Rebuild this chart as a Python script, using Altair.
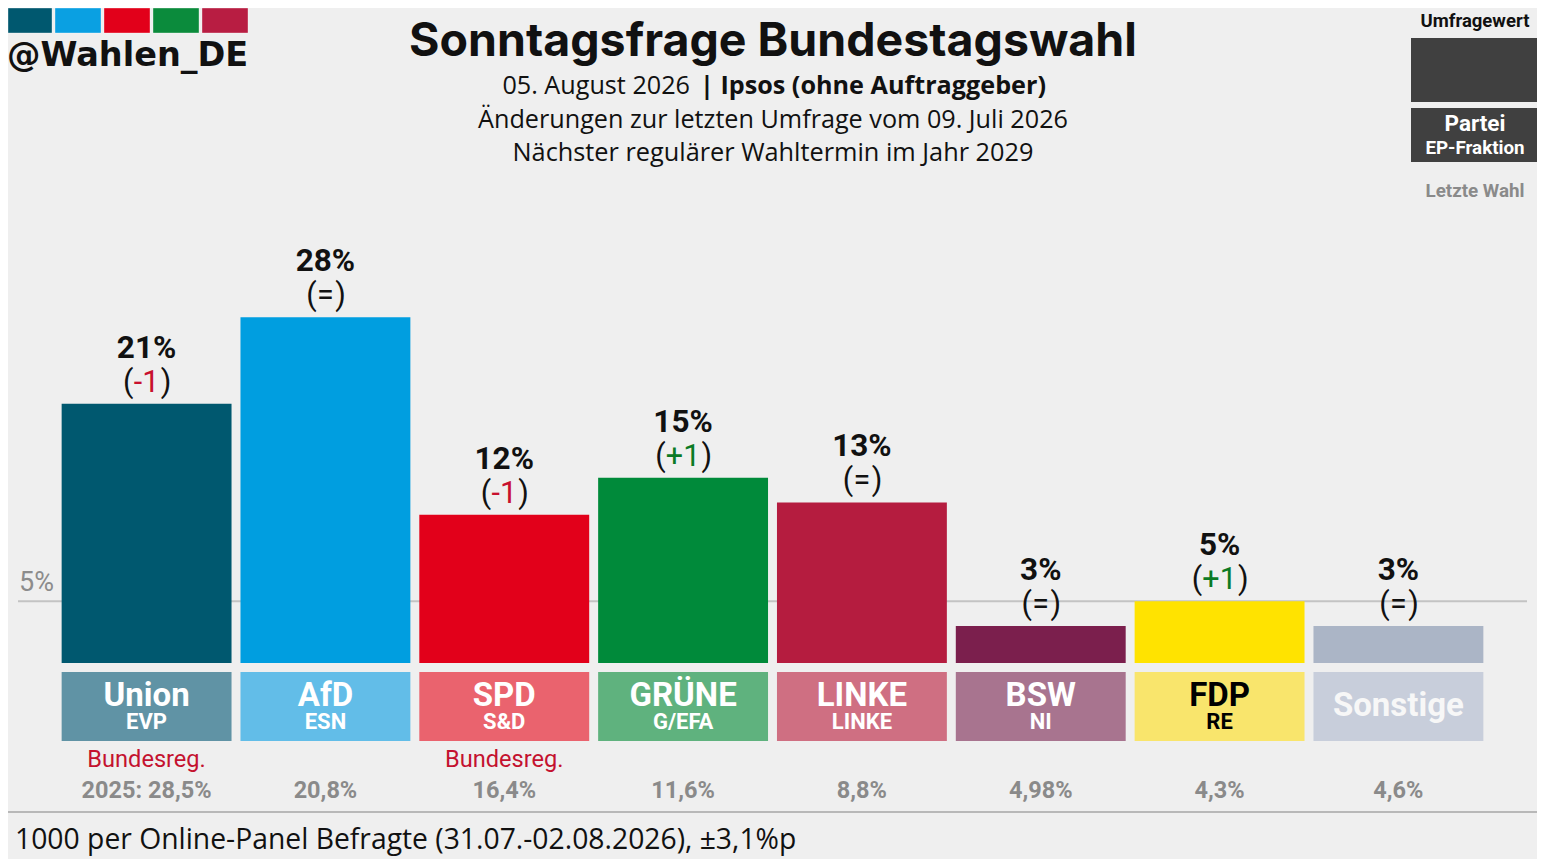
import altair as alt
import pandas as pd

# ---------------- data ----------------
parties = ["Union", "AfD", "SPD", "GRÜNE", "LINKE", "BSW", "FDP", "Sonstige"]
fraktion = ["EVP", "ESN", "S&D", "G/EFA", "LINKE", "NI", "RE", ""]
values = [21, 28, 12, 15, 13, 3, 5, 3]
changes = ["-1", "=", "-1", "+1", "=", "=", "+1", "="]
last_vote = ["2025: 28,5%", "20,8%", "16,4%", "11,6%", "8,8%", "4,98%", "4,3%", "4,6%"]
government = ["Bundesreg.", "", "Bundesreg.", "", "", "", "", ""]
bar_colors = ["#00586f", "#009ee0", "#e2001a", "#008a3a", "#b51c3f", "#7b1f4d", "#ffe300", "#abb5c6"]
box_colors = ["#6093a5", "#62bde8", "#ea636e", "#5fb27e", "#cf6f82", "#a8748f", "#f9e56c", "#c8cedb"]
name_colors = ["#ffffff"] * 6 + ["#000000", "#f7f7f7"]
threshold = [5]
logo_colors = ["#00586f", "#0aa0e2", "#e2001a", "#0b8b3c", "#b81d42"]

# ---------------- layout ----------------
W, H = 1529, 851
OFF = 8
def px(x):
    return x - OFF
def py(y):
    return y - OFF

BASE_Y = py(663)
PX_PER_PCT = 12.35
y_domain = [-(H - BASE_Y) / PX_PER_PCT, BASE_Y / PX_PER_PCT]

BG = "#efefef"
FONT = "Roboto"
SUBFONT = "Open Sans"
TITLEFONT = "Inter"

df = pd.DataFrame({
    "party": parties,
    "fraktion": fraktion,
    "value": values,
    "change": changes,
    "last": last_vote,
    "gov": government,
    "bar_color": bar_colors,
    "box_color": box_colors,
    "name_color": name_colors,
})
df["label"] = df["value"].astype(str) + "%"

X = alt.X("party:N", sort=parties,
          scale=alt.Scale(paddingInner=0.05, paddingOuter=0.3), axis=None)
Ysc = alt.Scale(domain=y_domain, nice=False, zero=False)

base = alt.Chart(df)
one = alt.Chart(pd.DataFrame({"a": [0]}))

layers = []

# 5% threshold line
thr = pd.DataFrame({"v": threshold})
thr["lab"] = thr["v"].astype(str) + "%"
layers.append(alt.Chart(thr).mark_rule(color="#c3c3c3", strokeWidth=2).encode(
    y=alt.Y("v:Q", scale=Ysc, axis=None),
    x=alt.value(px(18)), x2=alt.value(px(1527))))
layers.append(alt.Chart(thr).mark_text(align="left", baseline="alphabetic", dy=-10,
                                        font=FONT, fontSize=27, color="#8c8c8c").encode(
    y=alt.Y("v:Q", scale=Ysc, axis=None), x=alt.value(px(19)), text="lab:N"))

# bars
layers.append(base.mark_bar().encode(
    x=X, y=alt.Y("value:Q", scale=Ysc, axis=None), y2=alt.datum(0),
    color=alt.Color("bar_color:N", scale=None)))

# value labels
layers.append(base.mark_text(baseline="alphabetic", dy=-46, font=FONT, fontSize=31.5,
                             fontWeight="bold", color="#111111").encode(
    x=X, y=alt.Y("value:Q", scale=Ysc, axis=None), text="label:N"))

# change labels: "(" + coloured change + ")"
change_style = {"=": ("#111111", 8.3), "-1": ("#c8102e", 12.6), "+1": ("#0b7a25", 16.9)}
for key, (col, hw) in change_style.items():
    sub = base.transform_filter(alt.datum.change == key)
    common = dict(baseline="alphabetic", dy=-12, font=FONT, fontSize=30.5)
    layers.append(sub.mark_text(align="right", dx=-hw - 0.5, color="#111111", text="(", **common).encode(
        x=X, y=alt.Y("value:Q", scale=Ysc, axis=None)))
    layers.append(sub.mark_text(align="center", color=col, **common).encode(
        x=X, y=alt.Y("value:Q", scale=Ysc, axis=None), text="change:N"))
    layers.append(sub.mark_text(align="left", dx=hw + 1.5, color="#111111", text=")", **common).encode(
        x=X, y=alt.Y("value:Q", scale=Ysc, axis=None)))

# party boxes
layers.append(base.mark_bar().encode(
    x=X, y=alt.value(py(672)), y2=alt.value(py(741)),
    color=alt.Color("box_color:N", scale=None)))
with_fr = base.transform_filter(alt.datum.fraktion != "")
no_fr = base.transform_filter(alt.datum.fraktion == "")
layers.append(with_fr.mark_text(baseline="alphabetic", font=FONT, fontSize=33, fontWeight="bold").encode(
    x=X, y=alt.value(py(706)), text="party:N", color=alt.Color("name_color:N", scale=None)))
layers.append(with_fr.mark_text(baseline="alphabetic", font=FONT, fontSize=22, fontWeight="bold").encode(
    x=X, y=alt.value(py(729)), text="fraktion:N", color=alt.Color("name_color:N", scale=None)))
layers.append(no_fr.mark_text(baseline="alphabetic", font=FONT, fontSize=33, fontWeight="bold").encode(
    x=X, y=alt.value(py(716)), text="party:N", color=alt.Color("name_color:N", scale=None)))

# government + last election
layers.append(base.transform_filter(alt.datum.gov != "").mark_text(
    baseline="alphabetic", font=FONT, fontSize=23.6, color="#c4122f").encode(
    x=X, y=alt.value(py(767)), text="gov:N"))
layers.append(base.mark_text(baseline="alphabetic", font=FONT, fontSize=23.5, fontWeight="bold",
                             color="#8a8a8a").encode(
    x=X, y=alt.value(py(798)), text="last:N"))

# separator + footer
layers.append(one.mark_rule(color="#b8b8b8", strokeWidth=2).encode(
    x=alt.value(0), x2=alt.value(W), y=alt.value(py(812))))
layers.append(one.mark_text(align="left", baseline="alphabetic", font=SUBFONT, fontSize=28.3,
                            color="#111111",
                            text="1000 per Online-Panel Befragte (31.07.-02.08.2026), ±3,1%p").encode(
    x=alt.value(px(15)), y=alt.value(py(849))))

# title block
layers.append(one.mark_text(align="center", baseline="alphabetic", font=TITLEFONT, fontSize=46.5,
                            fontWeight="bold", color="#111111",
                            text="Sonntagsfrage Bundestagswahl").encode(
    x=alt.value(px(773)), y=alt.value(py(56))))
layers.append(one.mark_text(align="right", baseline="alphabetic", font=SUBFONT, fontSize=25.2,
                            color="#111111", text="05. August 2026").encode(
    x=alt.value(px(690)), y=alt.value(py(94))))
layers.append(one.mark_text(align="left", baseline="alphabetic", font=SUBFONT, fontSize=25.2,
                            fontWeight="bold", color="#111111", text="| Ipsos (ohne Auftraggeber)").encode(
    x=alt.value(px(700)), y=alt.value(py(94))))
layers.append(one.mark_text(align="center", baseline="alphabetic", font=SUBFONT, fontSize=25.2,
                            color="#111111", text="Änderungen zur letzten Umfrage vom 09. Juli 2026").encode(
    x=alt.value(px(773)), y=alt.value(py(128))))
layers.append(one.mark_text(align="center", baseline="alphabetic", font=SUBFONT, fontSize=25.3,
                            color="#111111", text="Nächster regulärer Wahltermin im Jahr 2029").encode(
    x=alt.value(px(773)), y=alt.value(py(161))))

# logo
for i, c in enumerate(logo_colors):
    x0 = 6 + i * 49
    layers.append(one.mark_rect(color=c, stroke="#ffffff", strokeOpacity=0.35, strokeWidth=1).encode(
        x=alt.value(max(px(x0), 0)), x2=alt.value(px(x0 + 46)),
        y=alt.value(max(py(4), 0)), y2=alt.value(py(33))))
layers.append(one.mark_text(align="left", baseline="alphabetic", font="DejaVu Sans", fontSize=33.5,
                            fontWeight="bold", color="#111111", text="@Wahlen_DE").encode(
    x=alt.value(px(7)), y=alt.value(py(66))))

# legend (top right)
layers.append(one.mark_text(align="center", baseline="alphabetic", font=FONT, fontSize=18.5,
                            fontWeight="bold", color="#111111", text="Umfragewert").encode(
    x=alt.value(px(1475)), y=alt.value(py(27))))
layers.append(one.mark_rect(color="#404040").encode(
    x=alt.value(px(1411)), x2=alt.value(px(1538)), y=alt.value(py(38)), y2=alt.value(py(102))))
layers.append(one.mark_rect(color="#404040").encode(
    x=alt.value(px(1411)), x2=alt.value(px(1538)), y=alt.value(py(108)), y2=alt.value(py(162))))
layers.append(one.mark_text(align="center", baseline="alphabetic", font=FONT, fontSize=22.5,
                            fontWeight="bold", color="#ffffff", text="Partei").encode(
    x=alt.value(px(1475)), y=alt.value(py(131))))
layers.append(one.mark_text(align="center", baseline="alphabetic", font=FONT, fontSize=18.8,
                            fontWeight="bold", color="#ffffff", text="EP-Fraktion").encode(
    x=alt.value(px(1475)), y=alt.value(py(154))))
layers.append(one.mark_text(align="center", baseline="alphabetic", font=FONT, fontSize=18.8,
                            fontWeight="bold", color="#8a8a8a", text="Letzte Wahl").encode(
    x=alt.value(px(1475)), y=alt.value(py(197))))

chart = alt.layer(*layers).properties(
    width=W, height=H, padding=0,
    autosize=alt.AutoSizeParams(type="none"),
    background=BG,
).configure_view(stroke=None)

chart.save("out.html", embed_options={"renderer": "svg", "actions": False})
